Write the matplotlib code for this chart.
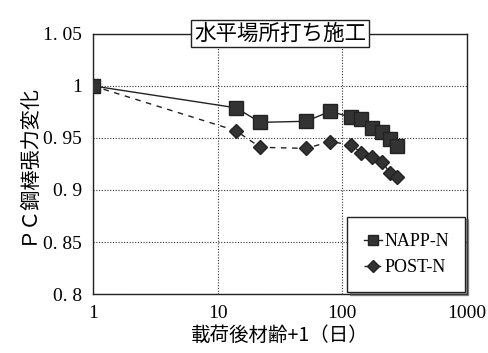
import numpy as np
import matplotlib.pyplot as plt

plt.rcParams['font.family'] = ['Noto Sans CJK JP', 'DejaVu Sans']

# days after loading + 1
days = [1, 14, 22, 51, 80, 117, 142, 174, 209, 242, 277]
napp_n = [1.0, 0.979, 0.965, 0.966, 0.9755, 0.970, 0.968, 0.960, 0.956, 0.949, 0.9425]
post_n = [1.0, 0.957, 0.941, 0.940, 0.9464, 0.9435, 0.936, 0.932, 0.927, 0.916, 0.912]

yticks = [0.8, 0.85, 0.9, 0.95, 1.0, 1.05]
ytick_labels = ['0. 8', '0. 85', '0. 9', '0. 95', '1', '1. 05']
xticks = [1, 10, 100, 1000]
xtick_labels = ['1', '10', '100', '1000']

fig = plt.figure(figsize=(4.89, 3.53), dpi=100)
ax = fig.add_axes([0.190, 0.167, 0.765, 0.737])

ax.plot(days, napp_n, color='#222222', lw=1.0, marker='s', ms=9.5,
        mfc='#333333', mec='#222222', label='NAPP-N', zorder=3)
ax.plot(days, post_n, color='#222222', lw=1.0, ls=(0, (4, 4)), marker='D', ms=7.5,
        mfc='#333333', mec='#222222', label='POST-N', zorder=2)

ax.set_xscale('log')
ax.set_xlim(1, 1000)
ax.set_ylim(0.8, 1.05)
ax.set_xticks(xticks)
ax.set_xticklabels(xtick_labels, family='Liberation Serif', fontsize=14)
ax.minorticks_off()
ax.set_yticks(yticks)
ax.set_yticklabels(ytick_labels, family='Liberation Serif', fontsize=14)
ax.tick_params(length=0, pad=8)
ax.grid(True, color='#333333', ls=(0, (1, 1.5)), lw=0.8)
for s in ax.spines.values():
    s.set_color('#222222')
    s.set_linewidth(1.0)

ax.set_ylabel('ＰＣ鋼棒張力変化', fontsize=14.5, labelpad=4)
ax.set_xlabel('載荷後材齢+1（日）', fontsize=14, labelpad=2)

leg = ax.legend(loc='lower right', frameon=True, fancybox=False, shadow=True,
                fontsize=13, handlelength=1.0, markerscale=0.8,
                borderaxespad=0.1, borderpad=0.9, handletextpad=0.15,
                labelspacing=0.5)
leg.get_frame().set_edgecolor('#222222')
leg.get_frame().set_linewidth(1.0)
for t in leg.get_texts():
    t.set_family('Liberation Serif')

ax.text(0.5, 1.0, '水平場所打ち施工', transform=ax.transAxes, ha='center', va='center',
        fontsize=15.5,
        bbox=dict(boxstyle='square,pad=0.12', fc='white', ec='#222222', lw=1.0))

fig.savefig('out.png', dpi=100)
